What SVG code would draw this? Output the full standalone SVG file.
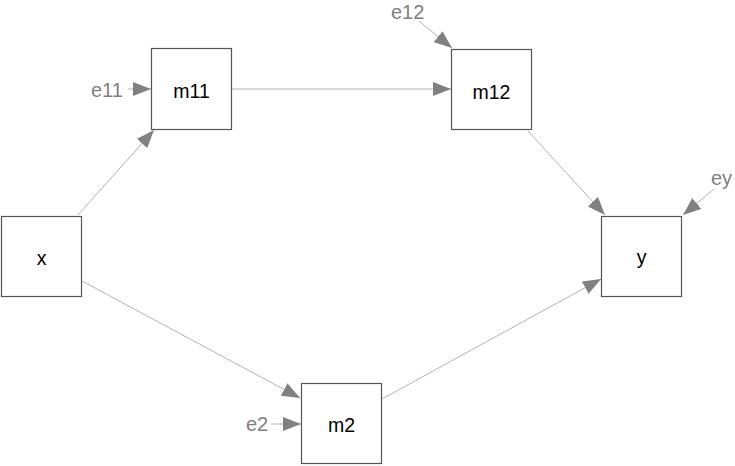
<svg xmlns="http://www.w3.org/2000/svg" width="735" height="466" viewBox="0 0 735 466">
<style>
.box{fill:#fff;stroke:#555;stroke-width:1.2}
.lbl{font-family:"Liberation Sans",Arial,sans-serif;font-size:19.5px;fill:#000;text-anchor:middle}
.err{font-family:"Liberation Sans",Arial,sans-serif;font-size:20px;fill:#808080}
.edge{stroke:#b3b3b3;stroke-width:1;fill:none;marker-end:url(#ah)}
</style>
<defs>
<marker id="ah" markerUnits="userSpaceOnUse" markerWidth="19" markerHeight="15" refX="18" refY="7.5" orient="auto">
<path d="M0,0.5 L18,7.5 L0,14.5 Z" fill="#808080"/>
</marker>
</defs>
<rect width="735" height="466" fill="#fff"/>
<g id="edges">
<line class="edge" x1="78" y1="215" x2="154" y2="130"/>
<line class="edge" x1="82" y1="281" x2="300" y2="398"/>
<line class="edge" x1="232" y1="89" x2="451" y2="89"/>
<line class="edge" x1="528" y1="131" x2="605" y2="215"/>
<line class="edge" x1="382" y1="399" x2="601" y2="279"/>
<line class="edge" x1="128" y1="89" x2="151" y2="89"/>
<line class="edge" x1="419" y1="21" x2="452" y2="48"/>
<line class="edge" x1="714" y1="189" x2="683" y2="215"/>
<line class="edge" x1="271" y1="424" x2="301" y2="424"/>
</g>
<g id="e11"><text class="err" x="91" y="97">e11</text></g>
<g id="e12"><text class="err" x="391" y="19">e12</text></g>
<g id="ey"><text class="err" x="711" y="185">ey</text></g>
<g id="e2"><text class="err" x="246" y="431">e2</text></g>
<g id="x"><rect class="box" x="1.5" y="216.5" width="80" height="80"/><text class="lbl" x="41.5" y="265">x</text></g>
<g id="m11"><rect class="box" x="151.5" y="48.5" width="80" height="81"/><text class="lbl" x="191.5" y="98">m11</text></g>
<g id="m12"><rect class="box" x="451.5" y="49.5" width="80" height="80"/><text class="lbl" x="491.5" y="99">m12</text></g>
<g id="y"><rect class="box" x="601.5" y="216.5" width="80" height="80"/><text class="lbl" x="641.5" y="264">y</text></g>
<g id="m2"><rect class="box" x="301.5" y="383.5" width="80" height="80"/><text class="lbl" x="341.5" y="432">m2</text></g>
</svg>
